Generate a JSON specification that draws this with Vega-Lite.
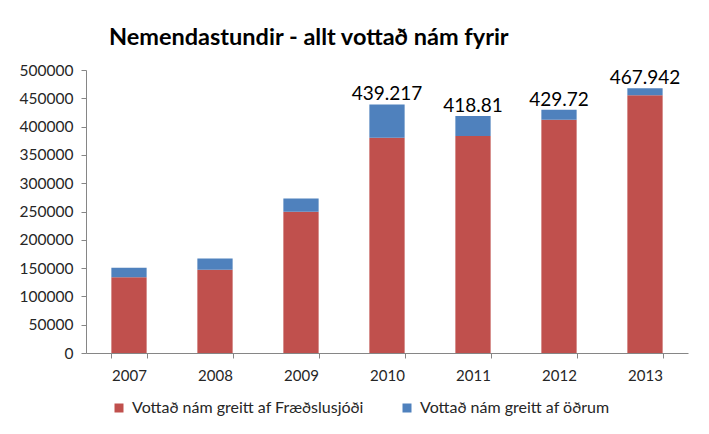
{
  "$schema": "https://vega.github.io/schema/vega-lite/v6.json",
  "autosize": {"type": "none"},
  "width": 602,
  "height": 283,
  "padding": {"left": 86, "top": 70, "right": 21, "bottom": 81},
  "background": "white",
  "config": {"view": {"stroke": null}, "font": "Lato"},
  "title": {
    "text": "Nemendastundir - allt vottað nám fyrir",
    "anchor": "start",
    "frame": "group",
    "dx": 23,
    "offset": 14,
    "font": "Lato",
    "fontSize": 23.5,
    "fontWeight": "bold",
    "color": "#000000"
  },
  "datasets": {
    "bars": [
      {"year": "2007", "series": "Vottað nám greitt af Fræðslusjóði", "ord": 1, "value": 134000},
      {"year": "2007", "series": "Vottað nám greitt af öðrum", "ord": 2, "value": 16500},
      {"year": "2008", "series": "Vottað nám greitt af Fræðslusjóði", "ord": 1, "value": 147000},
      {"year": "2008", "series": "Vottað nám greitt af öðrum", "ord": 2, "value": 20000},
      {"year": "2009", "series": "Vottað nám greitt af Fræðslusjóði", "ord": 1, "value": 249500},
      {"year": "2009", "series": "Vottað nám greitt af öðrum", "ord": 2, "value": 23500},
      {"year": "2010", "series": "Vottað nám greitt af Fræðslusjóði", "ord": 1, "value": 380500},
      {"year": "2010", "series": "Vottað nám greitt af öðrum", "ord": 2, "value": 58717},
      {"year": "2011", "series": "Vottað nám greitt af Fræðslusjóði", "ord": 1, "value": 383500},
      {"year": "2011", "series": "Vottað nám greitt af öðrum", "ord": 2, "value": 35310},
      {"year": "2012", "series": "Vottað nám greitt af Fræðslusjóði", "ord": 1, "value": 412300},
      {"year": "2012", "series": "Vottað nám greitt af öðrum", "ord": 2, "value": 17420},
      {"year": "2013", "series": "Vottað nám greitt af Fræðslusjóði", "ord": 1, "value": 455300},
      {"year": "2013", "series": "Vottað nám greitt af öðrum", "ord": 2, "value": 12642}
    ],
    "labels": [
      {"year": "2010", "total": 439217, "label": "439.217"},
      {"year": "2011", "total": 418810, "label": "418.81"},
      {"year": "2012", "total": 429720, "label": "429.72"},
      {"year": "2013", "total": 467942, "label": "467.942"}
    ]
  },
  "encoding": {
    "x": {
      "field": "year",
      "type": "nominal",
      "sort": null,
      "scale": {"paddingInner": 0.59, "paddingOuter": 0.295},
      "axis": {
        "title": null,
        "labelAngle": 0,
        "tickBand": "extent",
        "domainColor": "#868686",
        "tickColor": "#868686",
        "tickSize": 5,
        "labelFontSize": 15,
        "labelColor": "#262626",
        "labelPadding": 10,
        "labelFont": "Lato"
      }
    }
  },
  "layer": [
    {
      "data": {"name": "bars"},
      "mark": {"type": "bar"},
      "encoding": {
        "y": {
          "field": "value",
          "type": "quantitative",
          "stack": "zero",
          "scale": {"domain": [0, 500000]},
          "axis": {
            "title": null,
            "values": [0, 50000, 100000, 150000, 200000, 250000, 300000, 350000, 400000, 450000, 500000],
            "format": "d",
            "grid": false,
            "labelOverlap": false,
            "domainColor": "#868686",
            "tickColor": "#868686",
            "tickSize": 5,
            "labelFontSize": 15.5,
            "labelColor": "#262626",
            "labelPadding": 8,
            "labelFont": "Lato"
          }
        },
        "order": {"field": "ord", "type": "quantitative"},
        "color": {
          "field": "series",
          "type": "nominal",
          "scale": {
            "domain": ["Vottað nám greitt af Fræðslusjóði", "Vottað nám greitt af öðrum"],
            "range": ["#C0504D", "#4F81BD"]
          },
          "legend": {
            "title": null,
            "orient": "none",
            "legendX": 25,
            "legendY": 330,
            "direction": "horizontal",
            "symbolType": "square",
            "symbolSize": 81,
            "symbolStrokeWidth": 0,
            "labelFontSize": 16,
            "labelColor": "#262626",
            "labelFont": "Lato",
            "labelLimit": 0,
            "labelOffset": 5,
            "columnPadding": 35
          }
        }
      }
    },
    {
      "data": {"name": "labels"},
      "mark": {"type": "text", "baseline": "bottom", "dy": 0, "fontSize": 19, "font": "Lato", "color": "#000000"},
      "encoding": {
        "y": {
          "field": "total",
          "type": "quantitative",
          "axis": {
            "title": null,
            "values": [0, 50000, 100000, 150000, 200000, 250000, 300000, 350000, 400000, 450000, 500000],
            "format": "d",
            "grid": false,
            "labelOverlap": false,
            "domainColor": "#868686",
            "tickColor": "#868686",
            "tickSize": 5,
            "labelFontSize": 15.5,
            "labelColor": "#262626",
            "labelPadding": 8,
            "labelFont": "Lato"
          }
        },
        "text": {"field": "label", "type": "nominal"}
      }
    }
  ]
}
